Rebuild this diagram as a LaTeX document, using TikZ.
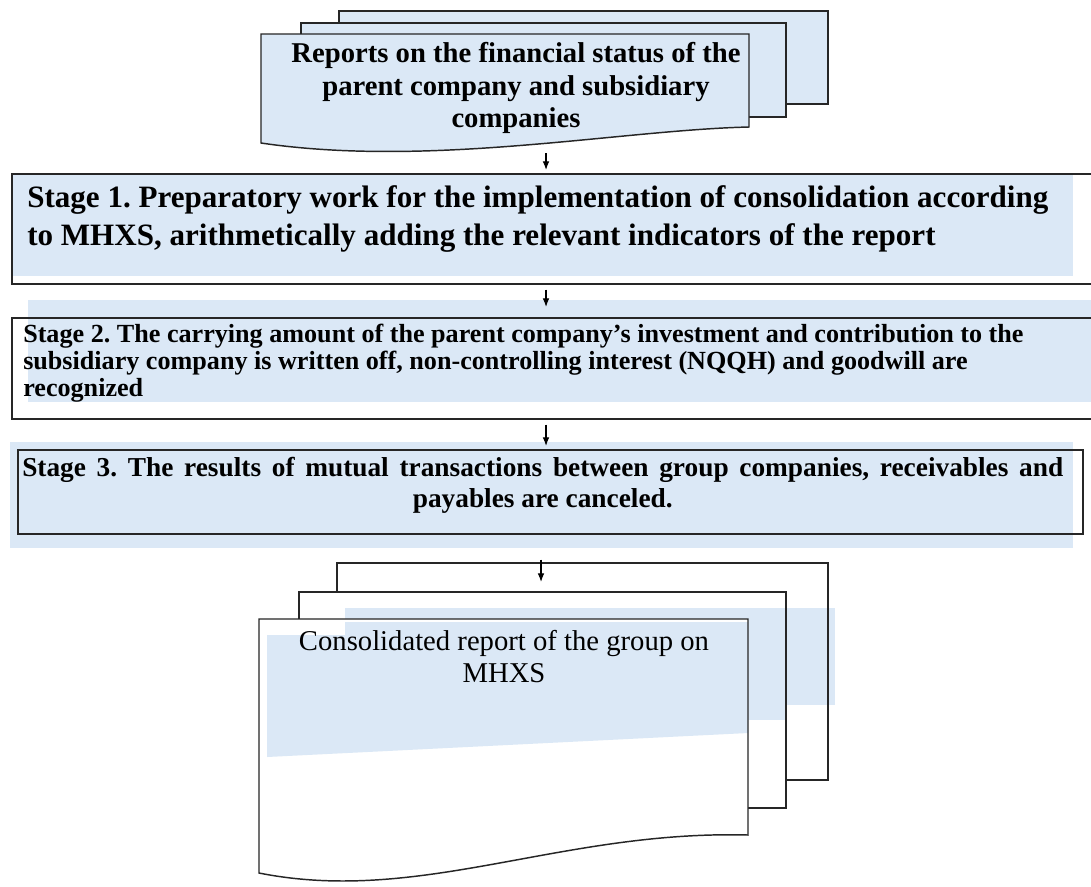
\documentclass[tikz,border=0pt]{standalone}
\usepackage{fontspec}
\setmainfont{Liberation Serif}
\usetikzlibrary{arrows.meta, positioning}
\definecolor{tissue}{RGB}{219,232,246}
\frenchspacing

\begin{document}
\begin{tikzpicture}[
  x=0.75pt, y=-0.75pt,
  page/.style={draw=black!85, line width=1.1pt},
  stagebox/.style={rectangle, draw=black!85, line width=1.2pt, inner sep=0pt, anchor=north west},
  stagetext/.style={inner sep=0pt, align=left},
  arrow/.style={-{Latex[length=6.5pt,width=5pt]}, line width=0.9pt}
]
\useasboundingbox (0,0) rectangle (1091,886);
\fill[white] (0,0) rectangle (1091,886);

% input reports (stack of pages)
\filldraw[page, fill=tissue] (339,11) rectangle (828,104);
\filldraw[page, fill=tissue] (301,23) rectangle (786,117);
\filldraw[page, fill=tissue] (261,34) -- (749,34) -- (749,127)
  .. controls (620,130) and (430,168) .. (261,143) -- cycle;
\node[font=\bfseries\fontsize{21.5}{24.5}\selectfont, align=center, inner sep=0pt, anchor=north] (reports) at (516,42)
  {Reports on the financial status of the\\parent company and subsidiary\\companies};
\coordinate (reportsend) at (546,153);

% stage boxes
\fill[tissue] (11,173) rectangle (1073,276);
\node[stagebox, minimum width=817.5pt, minimum height=82.5pt] (stage1) at (11,173) {};
\node[stagetext, font=\bfseries\fontsize{23.3}{28.5}\selectfont, below right=9.5pt and 12pt of stage1.north west] (stage1txt)
  {Stage 1. Preparatory work for the implementation of consolidation according\\to MHXS, arithmetically adding the relevant indicators of the report};

\fill[tissue] (28,300) rectangle (1091,402);
\node[stagebox, minimum width=817.5pt, minimum height=75.75pt] (stage2) at (11,317) {};
\node[stagetext, font=\bfseries\fontsize{19.6}{20}\selectfont, below right=5.25pt and 9pt of stage2.north west] (stage2txt)
  {Stage 2. The carrying amount of the parent company's investment and contribution to the\\subsidiary company is written off, non-controlling interest (NQQH) and goodwill are\\recognized};

\fill[tissue] (10,442) rectangle (1073,548);
\node[stagebox, minimum width=798.75pt, minimum height=63pt] (stage3) at (17,449) {};
\node[stagetext, align=center, font=\bfseries\fontsize{20.5}{23.5}\selectfont, below right=6pt and 3.75pt of stage3.north west] (stage3txt)
  {\makebox[780.75pt][s]{Stage 3. The results of mutual transactions between group companies, receivables and}\\payables are canceled.};

% consolidated report (stack of pages)
\fill[white] (337,563) rectangle (828,780);
\fill[tissue] (345,608) rectangle (835,705);
\draw[page] (337,563) rectangle (828,780);
\fill[white] (299,592) rectangle (786,808);
\fill[tissue] (345,608) rectangle (786,720);
\draw[page] (299,592) rectangle (786,808);
\fill[white] (259,619) -- (748,619) -- (748,835)
  .. controls (560,830) and (420,905) .. (259,873) -- cycle;
\fill[tissue] (345,622) rectangle (748,640);
\fill[tissue] (267,635) -- (748,635) -- (748,733) -- (267,757) -- cycle;
\draw[page] (259,619) -- (748,619) -- (748,835)
  .. controls (560,830) and (420,905) .. (259,873) -- cycle;
\node[font=\fontsize{21.5}{24}\selectfont, align=center, inner sep=0pt, anchor=north] (consol) at (504,630)
  {Consolidated report of the group on\\MHXS};
\coordinate (consolin) at (541,582);

% arrows
\draw[arrow, shorten >=2.25pt] (reportsend) -- (reportsend |- stage1.north);
\draw[arrow, shorten <=3.75pt, shorten >=7.5pt] (stage1.south -| reportsend) -- (stage2.north -| reportsend);
\draw[arrow, shorten <=3.75pt, shorten >=2.25pt] (stage2.south -| reportsend) -- (stage3.north -| reportsend);
\draw[arrow, shorten <=18.75pt] (stage3.south -| consolin) -- (consolin);

\end{tikzpicture}
\end{document}
